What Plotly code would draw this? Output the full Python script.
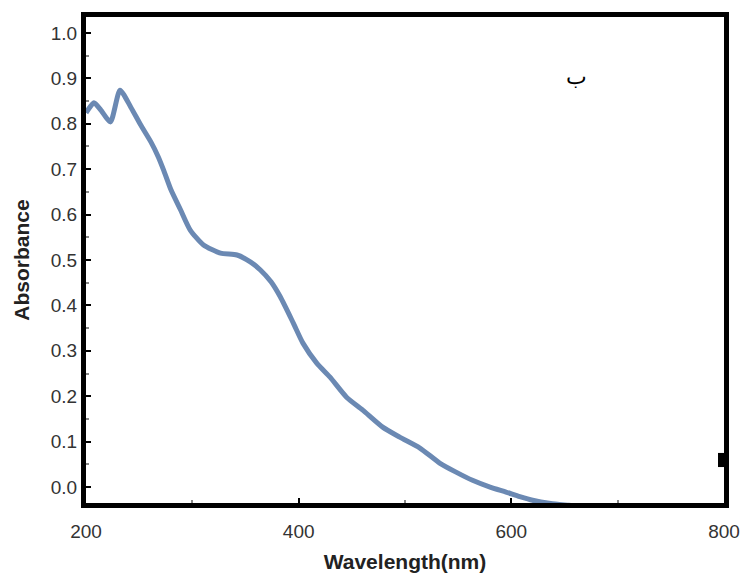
import plotly.graph_objects as go

# UV-Vis absorption spectrum
wavelength_nm = [200, 207.5, 214, 223, 232, 242, 251.5, 261, 268, 273, 280, 289, 298,
                 310.5, 326.5, 342, 354.5, 364, 374, 382.7, 395, 404, 417, 429.5, 445,
                 460, 479, 495, 514, 532.6, 548, 563.5, 580, 595, 608, 620, 637, 654, 658]
absorbance = [0.824, 0.846, 0.83, 0.804, 0.874, 0.837, 0.797, 0.76, 0.727, 0.698, 0.654,
              0.61, 0.566, 0.533, 0.515, 0.511, 0.496, 0.478, 0.452, 0.419, 0.361, 0.317,
              0.273, 0.242, 0.198, 0.17, 0.132, 0.11, 0.086, 0.053, 0.033, 0.015, 0.0,
              -0.011, -0.021, -0.029, -0.036, -0.04, -0.041]

x_ticks = [200, 400, 600, 800]
y_ticks = [0.0, 0.1, 0.2, 0.3, 0.4, 0.5, 0.6, 0.7, 0.8, 0.9, 1.0]

FONT = "Liberation Sans, Arial, sans-serif"

fig = go.Figure()
fig.add_trace(go.Scatter(
    x=wavelength_nm, y=absorbance, mode="lines",
    line=dict(color="#6b89b3", width=5, shape="spline", smoothing=0.6),
    hoverinfo="skip", showlegend=False,
))

axis_common = dict(
    showline=True, linecolor="black", linewidth=5, mirror=True,
    showgrid=False, zeroline=False, automargin=False,
    ticks="inside", ticklen=5, tickwidth=1.5, tickcolor="black",
    tickfont=dict(family=FONT, size=19, color="#333333"),
)

fig.update_xaxes(
    range=[200, 800], tickvals=x_ticks,
    minor=dict(ticks="inside", ticklen=3, tickcolor="#888888", dtick=100, tick0=200),
    ticklabelstandoff=7,
    title=dict(text="<b>Wavelength(nm)</b>", standoff=15,
               font=dict(family=FONT, size=21, color="#222222")),
    **axis_common,
)
fig.update_yaxes(
    range=[-0.035, 1.035], tickvals=y_ticks, tickformat=".1f",
    minor=dict(ticks="inside", ticklen=3, tickcolor="#888888", dtick=0.05, tick0=0),
    title=dict(text="<b>Absorbance</b>", standoff=17,
               font=dict(family=FONT, size=21, color="#222222")),
    **axis_common,
)

fig.add_annotation(
    x=0.788, y=0.907, xref="paper", yref="paper", text="ب", showarrow=False,
    font=dict(family="DejaVu Serif, Liberation Serif, serif", size=22, color="black"),
)

# small dark notch on the right frame
fig.add_shape(type="rect", xref="paper", yref="paper",
              x0=0.9906, x1=1.0, y0=0.074, y1=0.103,
              fillcolor="black", line_width=0)

fig.update_layout(
    width=745, height=574,
    margin=dict(l=86, r=21, t=17, b=71),
    plot_bgcolor="white", paper_bgcolor="white",
)

fig.write_html("out.html")
